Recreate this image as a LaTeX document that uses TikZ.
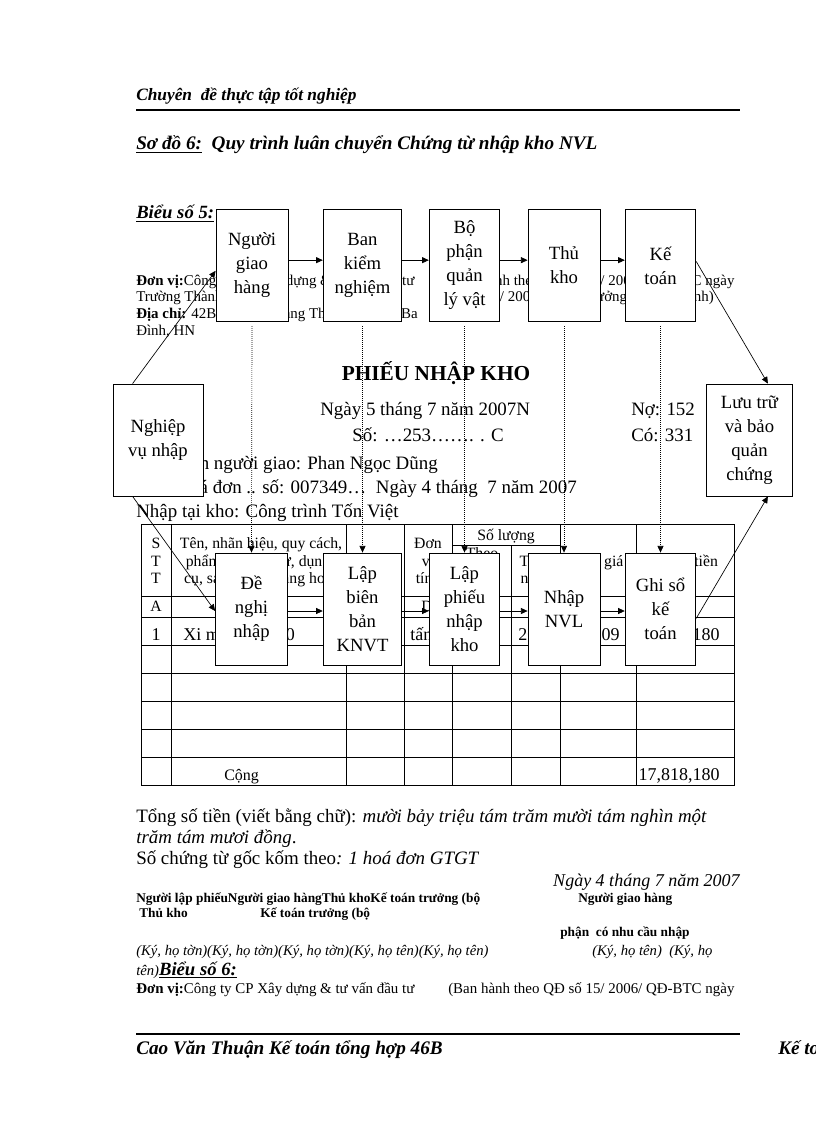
\documentclass[tikz,border=0pt]{standalone}
\usepackage{fontspec}
\setmainfont{Liberation Serif}
\usetikzlibrary{arrows.meta}

\newcommand{\boxfont}{\fontsize{14}{18}\selectfont}
\newcommand{\formfont}{\fontsize{11.2}{13}\selectfont}
\newcommand{\bodyfont}{\fontsize{14.2}{16}\selectfont}
\newcommand{\rowfont}{\fontsize{13.5}{15}\selectfont}
\newcommand{\cellfont}{\fontsize{11.8}{13.5}\selectfont}
\newcommand{\signfont}{\fontsize{10}{12}\selectfont}

\tikzset{
  doc/.style={inner sep=0pt, anchor=base west},
  flowbox/.style={draw, fill=white, line width=0.6pt, minimum width=54pt,
    minimum height=84.5pt, align=center, inner sep=1pt, font=\boxfont},
  flowarrow/.style={-{Triangle[length=5pt,width=4.5pt]}, line width=0.5pt},
  passarrow/.style={flowarrow, densely dotted},
  grid line/.style={line width=0.6pt}
}

\begin{document}
\begin{tikzpicture}[x=0.75pt,y=-0.75pt]
  \useasboundingbox[fill=white] (0,0) rectangle (816,1123);

  % page head
  \node[doc,font=\fontsize{13}{15}\bfseries\itshape] (running) at (136,101) {Chuyên~ đề thực tập tốt nghiệp};
  \draw[line width=1.5pt] (136,110) -- (740,110);
  \node[doc,font=\fontsize{14.4}{16}\bfseries\itshape] (title) at (136,150) {\underline{Sơ đồ 6:}\ \ Quy trình luân chuyển Chứng từ nhập kho NVL};

  % form behind the chart
  \node[doc,font=\fontsize{14}{16}\bfseries\itshape] (form5) at (136,219) {\underline{Biểu số 5:}};
  \node[doc,font=\formfont] at (136,285) {\textbf{Đơn vị:}Công ty CP Xây dựng \& tư vấn đầu tư};
  \node[doc,font=\formfont] at (136,301) {Trường Thành};
  \node[doc,font=\formfont] at (136,318) {\textbf{Địa chỉ:} 42B Đường Hoàng Thái Hà, Quận Ba};
  \node[doc,font=\formfont] at (136,335) {Đình, HN};
  \node[doc,font=\formfont] at (448,285) {(Ban hành theo QĐ số 15/ 2006/ QĐ-BTC ngày};
  \node[doc,font=\formfont,anchor=base] at (588,301) {20/ 03/ 2006 của Bộ trưởng Bộ Tài chính)};

  \node[doc,anchor=base,font=\fontsize{16}{18}\bfseries] (formtitle) at (436,380) {PHIẾU NHẬP KHO};
  \node[doc,font=\bodyfont] at (320,415) {Ngày 5 tháng 7 năm 2007N};
  \node[doc,font=\bodyfont] at (631,415) {Nợ: 152};
  \node[doc,font=\bodyfont] at (352,441) {Số: …253……. . C};
  \node[doc,font=\bodyfont] at (631,441) {Có: 331};
  \node[doc,font=\bodyfont,anchor=base east] at (438,469) {Họ và tên người giao: Phan Ngọc Dũng};
  \node[doc,font=\bodyfont,anchor=base east] at (577,493) {Theo hoá đơn .. số: 007349…\ \ Ngày 4 tháng~ 7 năm 2007};
  \node[doc,font=\bodyfont] at (136,517) {Nhập tại kho: Công trình Tốn Việt};

  % table
  \draw[grid line] (141,524) rectangle (734,785);
  \foreach \y in {596,617,645,673,701,729,757}
    \draw[grid line] (141,\y) -- (734,\y);
  \foreach \x in {171,346,404,452,560,636}
    \draw[grid line] (\x,524) -- (\x,785);
  \draw[grid line] (452,545) -- (560,545);
  \draw[grid line] (511,545) -- (511,785);

  \node[doc,anchor=base,font=\cellfont] at (156,548) {S};
  \node[doc,anchor=base,font=\cellfont] at (156,566) {T};
  \node[doc,anchor=base,font=\cellfont] at (156,583) {T};
  \node[doc,anchor=base,font=\cellfont] at (261,548) {Tên, nhãn hiệu, quy cách,};
  \node[doc,anchor=base,font=\cellfont] at (258,566) {phẩm chất vật tư, dụng};
  \node[doc,anchor=base,font=\cellfont] at (258,583) {cụ, sản phẩm, hàng hoá};
  \node[doc,anchor=base,font=\cellfont] at (428,548) {Đơn};
  \node[doc,anchor=base,font=\cellfont] at (428,566) {vị};
  \node[doc,anchor=base,font=\cellfont] at (428,583) {tính};
  \node[doc,anchor=base,font=\cellfont] at (506,540) {Số lượng};
  \node[doc,anchor=base,font=\cellfont] at (482,558) {Theo};
  \node[doc,anchor=base,font=\cellfont] at (536,566) {Thực};
  \node[doc,anchor=base,font=\cellfont] at (536,583) {nhập};
  \node[doc,anchor=base,font=\cellfont] at (598,566) {Đơn giá};
  \node[doc,anchor=base,font=\cellfont] at (684,566) {Thành tiền};
  \node[doc,anchor=base,font=\cellfont] at (156,611) {A};
  \node[doc,anchor=base,font=\cellfont] at (427,611) {D};
  \node[doc,anchor=base,font=\rowfont] at (156,640) {1};
  \node[doc,font=\rowfont] at (183,640) {Xi măng PC 30};
  \node[doc,font=\rowfont] at (410,640) {tấn};
  \node[doc,font=\rowfont] at (518,640) {20};
  \node[doc,font=\rowfont,anchor=base east] at (620,640) {890,909};
  \node[doc,font=\rowfont,anchor=base east] at (720,640) {17,818,180};
  \node[doc,font=\fontsize{12}{14}\selectfont] at (224,780) {Cộng};
  \node[doc,font=\rowfont,anchor=base east] at (720,780) {17,818,180};

  % text under the table
  \node[doc,font=\bodyfont] at (136,822) {Tổng số tiền (viết bằng chữ): \textit{mười bảy triệu tám trăm mười tám nghìn một}};
  \node[doc,font=\bodyfont] at (136,843) {\textit{trăm tám mươi đồng}.};
  \node[doc,font=\bodyfont] at (136,864) {Số chứng từ gốc kốm theo\textit{: 1 hoá đơn GTGT}};
  \node[doc,font=\fontsize{13.5}{15}\itshape,anchor=base east] at (740,886) {Ngày 4 tháng 7 năm 2007};
  \node[doc,font=\signfont\bfseries] at (136,902) {Người lập phiếuNgười giao hàngThủ khoKế toán trưởng (bộ};
  \node[doc,font=\signfont\bfseries] at (578,902) {Người giao hàng};
  \node[doc,font=\signfont\bfseries] at (139,917) {Thủ kho};
  \node[doc,font=\signfont\bfseries] at (260,917) {Kế toán trưởng (bộ};
  \node[doc,font=\signfont\bfseries] at (560,936) {phận~ có nhu cầu nhập};
  \node[doc,font=\fontsize{11}{13}\itshape] at (136,955) {(Ký, họ tờn)(Ký, họ tờn)(Ký, họ tờn)(Ký, họ tên)(Ký, họ tên)};
  \node[doc,font=\fontsize{11}{13}\itshape] at (592,955) {(Ký, họ tên)~ (Ký, họ};
  \node[doc,font=\fontsize{11}{13}\itshape] (form6) at (136,975) {tên)\fontsize{14}{16}\bfseries\underline{Biểu số 6:}};
  \node[doc,font=\formfont] at (136,993) {\textbf{Đơn vị:}Công ty CP Xây dựng \& tư vấn đầu tư};
  \node[doc,font=\formfont] at (448,993) {(Ban hành theo QĐ số 15/ 2006/ QĐ-BTC ngày};

  % page foot
  \draw[line width=1.5pt] (136,1034) -- (740,1034);
  \node[doc,font=\fontsize{14.4}{16}\bfseries\itshape] (author) at (136,1054) {Cao Văn Thuận Kế toán tổng hợp 46B};
  \node[doc,font=\fontsize{14.4}{16}\bfseries\itshape] (major) at (778,1054) {Kế to};

  % chart boxes
  \node[flowbox] (giao)    at (252,265.5)   {Người\\giao\\hàng};
  \node[flowbox,minimum width=59pt] (bankn) at (362.5,265.5) {Ban\\kiểm\\nghiệm};
  \node[flowbox,minimum width=53pt] (bophan) at (464.5,265.5) {Bộ\\phận\\quản\\lý vật};
  \node[flowbox] (thukho)  at (564,265.5)   {Thủ\\kho};
  \node[flowbox,minimum width=53pt] (ketoan) at (660.5,265.5) {Kế\\toán};

  \node[flowbox,minimum height=84pt] (denghi) at (251.5,609) {Đề\\nghị\\nhập};
  \node[flowbox,minimum width=59pt,minimum height=84pt] (lapbb) at (362.5,609) {Lập\\biên\\bản\\KNVT};
  \node[flowbox,minimum width=53pt,minimum height=84pt] (lappn) at (464.5,609) {Lập\\phiếu\\nhập\\kho};
  \node[flowbox,minimum height=84pt] (nhapnvl) at (564,609) {Nhập\\NVL};
  \node[flowbox,minimum width=53pt,minimum height=84pt] (ghiso) at (660.5,609) {Ghi sổ\\kế\\toán};

  \node[flowbox,minimum width=67.5pt,minimum height=84pt] (nghiep) at (158,440) {Nghiệp\\vụ nhập};
  \node[flowbox,minimum width=65pt,minimum height=84pt] (luutru) at (749.5,440) {Lưu trữ\\và bảo\\quản\\chứng};

  % connectors
  \foreach \a/\b in {giao/bankn,bankn/bophan,bophan/thukho,thukho/ketoan}
    \draw[flowarrow] ([yshift=4pt]\a.east) -- ([yshift=4pt]\b.west);
  \foreach \a/\b in {denghi/lapbb,lapbb/lappn,lappn/nhapnvl,nhapnvl/ghiso}
    \draw[flowarrow] ([yshift=-1.5pt]\a.east) -- ([yshift=-1.5pt]\b.west);
  \foreach \a/\b in {giao/denghi,bankn/lapbb,bophan/lappn,thukho/nhapnvl,ketoan/ghiso}
    \draw[passarrow] ([yshift=-3pt]\a.south) -- (\b.north);
  \draw[flowarrow] ([xshift=15pt]nghiep.north west) -- ([yshift=-4pt]giao.west);
  \draw[flowarrow] ([xshift=15pt]nghiep.south west) -- ([yshift=-1.5pt]denghi.west);
  \draw[flowarrow] ([yshift=3pt]ketoan.east) -- ([xshift=-19pt]luutru.north east);
  \draw[flowarrow] ([yshift=-7pt]ghiso.east) -- ([xshift=-19pt]luutru.south east);
\end{tikzpicture}
\end{document}
